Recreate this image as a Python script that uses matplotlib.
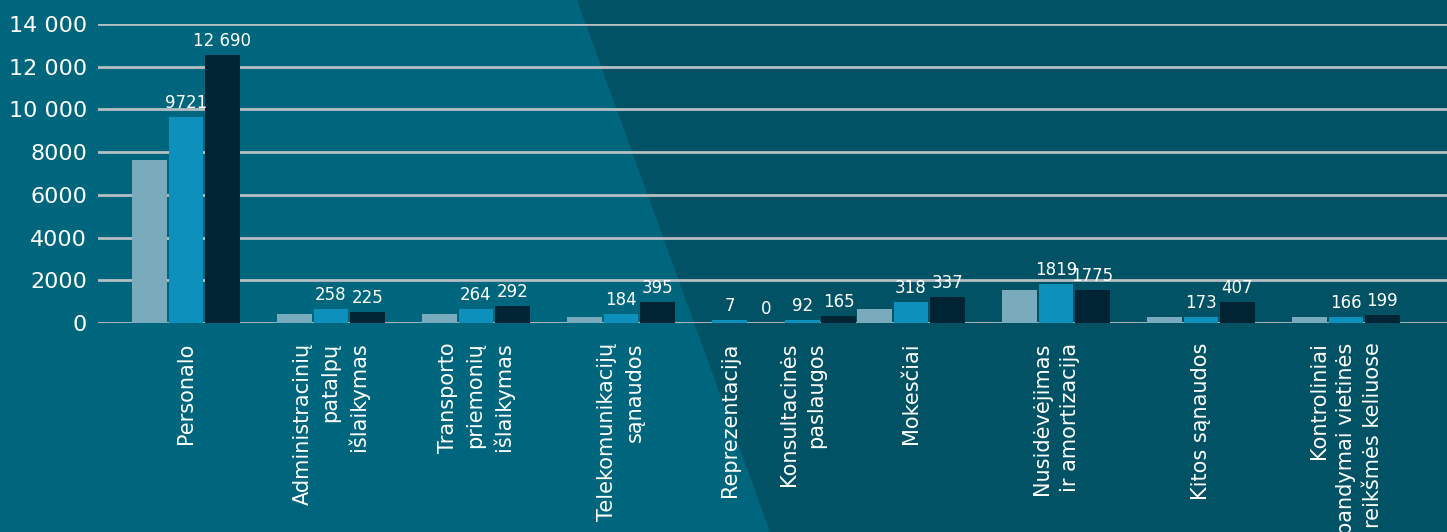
import numpy as np
import matplotlib.pyplot as plt
from matplotlib.patches import Polygon

plt.rcParams['font.family'] = ['DejaVu Sans']

categories = ['Personalo', 'Administracinių\npatalpų\nišlaikymas', 'Transporto\npriemonių\nišlaikymas',
              'Telekomunikacijų\nsąnaudos', 'Reprezentacija', 'Konsultacinės\npaslaugos', 'Mokesčiai',
              'Nusidėvėjimas\nir amortizacija', 'Kitos sąnaudos',
              'Kontroliniai\nbandymai vietinės\nreikšmės keliuose']
positions = [0, 1, 2, 3, 3.75, 4.25, 5, 6, 7, 8]

series1 = [7625, 408, 408, 267, 0, 0, 640, 1530, 267, 267]
series2 = [9641, 640, 640, 408, 127, 127, 970, 1810, 267, 267]
series3 = [12547, 500, 780, 970, 0, 314, 1205, 1530, 970, 360]

labels2 = ['9721', '258', '264', '184', '7', '92', '318', '1819', '173', '166']
labels3 = ['12 690', '225', '292', '395', '0', '165', '337', '1775', '407', '199']

yticks = [0, 2000, 4000, 6000, 8000, 10000, 12000, 14000]
yticklabels = ['0', '2000', '4000', '6000', '8000', '10 000', '12 000', '14 000']

c_bg_dark = '#015265'
c_bg_light = '#00667e'
colors = ['#7aabbd', '#0d90bb', '#002434']

fig = plt.figure(figsize=(14.47, 5.32), dpi=100, facecolor=c_bg_dark)

# background with the lighter diagonal panel
bg = fig.add_axes([0, 0, 1, 1], zorder=-10)
bg.set_xlim(0, 1447)
bg.set_ylim(532, 0)
bg.axis('off')
bg.add_patch(Polygon([(0, 0), (577, 0), (770, 532), (0, 532)], closed=True,
                     facecolor=c_bg_light, edgecolor='none'))

ax = fig.add_axes([98 / 1447, 1 - 323 / 532, 1 - 98 / 1447, (323 - 24) / 532])
ax.patch.set_alpha(0)

x = np.array(positions)
w = 0.24
off = 0.25
ax.bar(x - off, series1, w, color=colors[0], zorder=2)
ax.bar(x, series2, w, color=colors[1], zorder=2)
ax.bar(x + off, series3, w, color=colors[2], zorder=2)

for xi, v, t in zip(x, series2, labels2):
    ax.text(xi, v + 250, t, ha='center', va='bottom', color='white', fontsize=12)
for xi, v, t in zip(x, series3, labels3):
    ax.text(xi + off, v + 250, t, ha='center', va='bottom', color='white', fontsize=12)

ax.set_ylim(0, 14000)
ax.set_xlim(-0.607, 8.697)
ax.set_yticks(yticks)
ax.set_yticklabels(yticklabels, color='white', fontsize=16)
ax.yaxis.grid(True, color='#b5bec3', linewidth=2)
ax.set_axisbelow(True)
ax.tick_params(axis='y', length=0, pad=8)
ax.tick_params(axis='x', length=0, pad=14)
ax.set_xticks(positions)
ax.set_xticklabels(categories, rotation=90, color='white', fontsize=15,
                   va='top', ha='center', linespacing=1.45, multialignment='right')
for s in ax.spines.values():
    s.set_visible(False)

fig.savefig('out.png', dpi=100, facecolor=fig.get_facecolor())
